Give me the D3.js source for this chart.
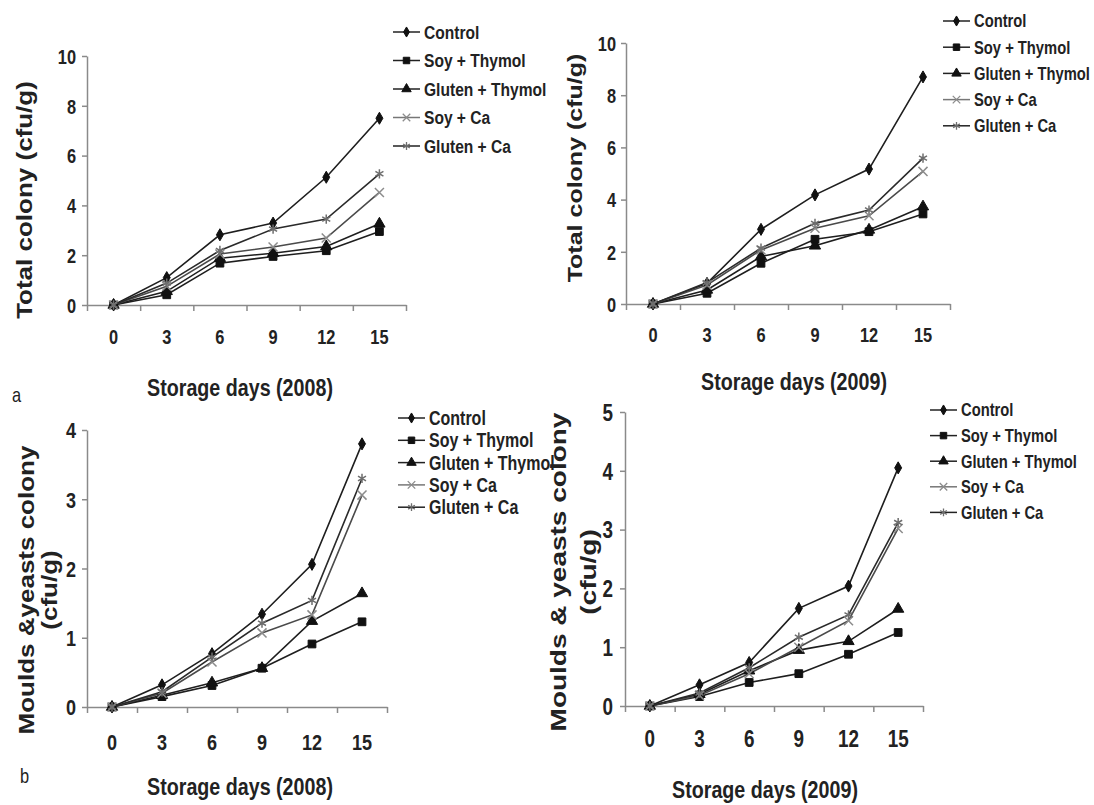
<!DOCTYPE html>
<html>
<head>
<meta charset="utf-8">
<script src="https://cdn.jsdelivr.net/npm/d3@7"></script>
<style>
  body { margin: 0; background: #fff; }
  svg { display: block; }
  text { font-family: "Liberation Sans", Arial, sans-serif; font-weight: bold; fill: #222; }
  .axis path, .axis line { stroke: #8a8a8a; stroke-width: 1.5; }
</style>
</head>
<body>
<svg id="fig" width="1094" height="805"></svg>
<script>
const days = ['0', '3', '6', '9', '12', '15']
const series = ['Control', 'Soy + Thymol', 'Gluten + Thymol', 'Soy + Ca', 'Gluten + Ca']

// one row per series, same order as `series`
const totalColony2008 = [
  [0, 1.1, 2.82, 3.29, 5.13, 7.5],
  [0, 0.41, 1.68, 1.95, 2.18, 2.95],
  [0, 0.55, 1.88, 2.08, 2.35, 3.26],
  [0, 0.75, 2.05, 2.33, 2.69, 4.52],
  [0, 0.88, 2.19, 3.05, 3.45, 5.27],
]
const totalColony2009 = [
  [0, 0.79, 2.86, 4.18, 5.17, 8.7],
  [0, 0.41, 1.56, 2.48, 2.77, 3.45],
  [0, 0.54, 1.82, 2.23, 2.84, 3.73],
  [0, 0.73, 2.07, 2.9, 3.38, 5.08],
  [0, 0.82, 2.14, 3.09, 3.6, 5.59],
]
const moulds2008 = [
  [0, 0.32, 0.77, 1.34, 2.06, 3.8],
  [0, 0.15, 0.31, 0.56, 0.91, 1.23],
  [0, 0.17, 0.35, 0.56, 1.24, 1.64],
  [0, 0.2, 0.65, 1.07, 1.33, 3.06],
  [0, 0.22, 0.72, 1.21, 1.54, 3.3],
]
const moulds2009 = [
  [0, 0.36, 0.74, 1.66, 2.04, 4.05],
  [0, 0.16, 0.4, 0.55, 0.88, 1.25],
  [0, 0.2, 0.6, 0.95, 1.1, 1.65],
  [0, 0.18, 0.55, 1.0, 1.45, 3.02],
  [0, 0.22, 0.65, 1.17, 1.55, 3.12],
]

const ticksTotal = [0, 2, 4, 6, 8, 10]
const ticksMoulds2008 = [0, 1, 2, 3, 4]
const ticksMoulds2009 = [0, 1, 2, 3, 4, 5]

// the scanned figure is squeezed horizontally, so is our text
const SQ = 0.82

const symbols = [d3.symbolDiamond, d3.symbolSquare, d3.symbolTriangle, d3.symbolX, d3.symbolAsterisk]
const symSize = [42, 60, 55, 55, 60]
const lineColor = ['#1e1e1e', '#1e1e1e', '#1e1e1e', '#4a4a4a', '#2a2a2a']
const markFill = ['#111', '#111', '#111', 'none', 'none']
const markStroke = ['#111', '#111', '#111', '#8c8c8c', '#6e6e6e']

const panels = [
  {
    data: totalColony2008, ticks: ticksTotal,
    left: 87, right: 406, top: 56, bottom: 305,
    tickFont: 20, yLabelGap: 11, xLabelDy: 39,
    xTitle: 'Storage days (2008)', xTitleX: 240, xTitleY: 396, xTitleFont: 24,
    yTitle: ['Total colony (cfu/g)'], yTitleX: [25], yTitleY: 200, yTitleFont: 26,
    legend: { x: 393, y: 32, step: 28.5, font: 19 },
    letter: { t: 'a', x: 12, y: 402 },
  },
  {
    data: totalColony2009, ticks: ticksTotal,
    left: 626, right: 950, top: 43, bottom: 304,
    tickFont: 20, yLabelGap: 10, xLabelDy: 38,
    xTitle: 'Storage days (2009)', xTitleX: 794, xTitleY: 390, xTitleFont: 24,
    yTitle: ['Total colony (cfu/g)'], yTitleX: [575], yTitleY: 168, yTitleFont: 25,
    legend: { x: 943, y: 21, step: 26.2, font: 18 },
  },
  {
    data: moulds2008, ticks: ticksMoulds2008,
    left: 87, right: 387, top: 430, bottom: 707,
    tickFont: 22, yLabelGap: 11, xLabelDy: 43,
    xTitle: 'Storage days (2008)', xTitleX: 240, xTitleY: 795, xTitleFont: 24,
    yTitle: ['Moulds &yeasts colony', '(cfu/g)'], yTitleX: [27, 50], yTitleY: 590, yTitleFont: 26,
    legend: { x: 398, y: 418, step: 22.3, font: 19.5 },
    letter: { t: 'b', x: 20, y: 783 },
  },
  {
    data: moulds2009, ticks: ticksMoulds2009,
    left: 625, right: 923, top: 412, bottom: 706,
    tickFont: 23, yLabelGap: 12, xLabelDy: 41,
    xTitle: 'Storage days (2009)', xTitleX: 765, xTitleY: 798, xTitleFont: 24,
    yTitle: ['Moulds & yeasts colony', '(cfu/g)'], yTitleX: [558, 588], yTitleY: 572, yTitleFont: 28,
    legend: { x: 930, y: 410, step: 25.6, font: 18 },
  },
]

const svg = d3.select('#fig')

function squeeze(x, y) {
  return `translate(${x},${y}) scale(${SQ},1)`
}

panels.forEach((p) => {
  const g = svg.append('g')

  const x = d3.scaleBand().domain(days).range([p.left, p.right])
  const xEdge = d3.scaleLinear().domain([0, days.length]).range([p.left, p.right])
  const y = d3.scaleLinear().domain([0, d3.max(p.ticks)]).range([p.bottom, p.top])
  const cx = (i) => x(days[i]) + x.bandwidth() / 2

  // x axis: line and ticks between categories
  g.append('g')
    .attr('class', 'axis axis--x')
    .attr('transform', `translate(0,${p.bottom})`)
    .call(d3.axisBottom(xEdge).tickValues(d3.range(days.length + 1)).tickFormat('').tickSize(6).tickSizeOuter(0))

  // x labels in the middle of each category
  const xLab = g.append('g')
    .attr('transform', `translate(0,${p.bottom})`)
    .call(d3.axisBottom(x).tickSize(0))
  xLab.select('.domain').remove()
  xLab.selectAll('text')
    .attr('y', null).attr('dy', null)
    .attr('transform', squeeze(0, p.xLabelDy))
    .style('font-size', `${p.tickFont}px`)
    .attr('fill', '#222')
  xLab.attr('font-family', null)

  // y axis
  const yAx = g.append('g')
    .attr('class', 'axis axis--y')
    .attr('transform', `translate(${p.left},0)`)
    .call(d3.axisLeft(y).tickValues(p.ticks).tickFormat(d3.format('d')).tickSize(5).tickSizeOuter(0))
  yAx.selectAll('text')
    .attr('x', null).attr('dy', '0.36em')
    .attr('transform', squeeze(-p.yLabelGap, 0))
    .style('font-size', `${p.tickFont}px`)
    .attr('fill', '#222')
  yAx.attr('font-family', null)

  // series lines
  const line = d3.line().x((d, i) => cx(i)).y((d) => y(d))
  p.data.forEach((vals, s) => {
    g.append('path')
      .datum(vals)
      .attr('d', line)
      .attr('fill', 'none')
      .attr('stroke', lineColor[s])
      .attr('stroke-width', 1.6)
  })

  // markers
  p.data.forEach((vals, s) => {
    g.selectAll(`.mark-${s}`)
      .data(vals)
      .enter()
      .append('path')
      .attr('class', `mark-${s}`)
      .attr('d', d3.symbol(symbols[s], symSize[s]))
      .attr('transform', (d, i) => `translate(${cx(i)},${y(d)})`)
      .attr('fill', markFill[s])
      .attr('stroke', markStroke[s])
      .attr('stroke-width', s > 2 ? 1.5 : 1)
  })

  // axis titles
  g.append('text')
    .attr('text-anchor', 'middle')
    .attr('transform', squeeze(p.xTitleX, p.xTitleY))
    .style('font-size', `${p.xTitleFont}px`)
    .text(p.xTitle)

  p.yTitle.forEach((t, k) => {
    g.append('text')
      .attr('text-anchor', 'middle')
      .attr('dy', '0.35em')
      .attr('transform', `${squeeze(p.yTitleX[k], p.yTitleY)} rotate(-90)`)
      .style('font-size', `${p.yTitleFont}px`)
      .text(t)
  })

  // legend
  const lg = g.append('g').attr('transform', `translate(${p.legend.x},${p.legend.y})`)
  series.forEach((name, s) => {
    const row = lg.append('g').attr('transform', `translate(0,${s * p.legend.step})`)
    row.append('line')
      .attr('x1', 0).attr('x2', 27)
      .attr('stroke', s === 3 ? '#777' : '#222')
      .attr('stroke-width', 1.5)
    row.append('path')
      .attr('d', d3.symbol(symbols[s], symSize[s] * 0.7))
      .attr('transform', 'translate(13.5,0)')
      .attr('fill', markFill[s])
      .attr('stroke', markStroke[s])
      .attr('stroke-width', s > 2 ? 1.3 : 1)
    row.append('text')
      .attr('dy', '0.36em')
      .attr('transform', squeeze(31, 0))
      .style('font-size', `${p.legend.font}px`)
      .text(name)
  })

  if (p.letter) {
    g.append('text')
      .attr('transform', squeeze(p.letter.x, p.letter.y))
      .style('font-size', '20px')
      .style('font-weight', 'normal')
      .text(p.letter.t)
  }
})
</script>
</body>
</html>
